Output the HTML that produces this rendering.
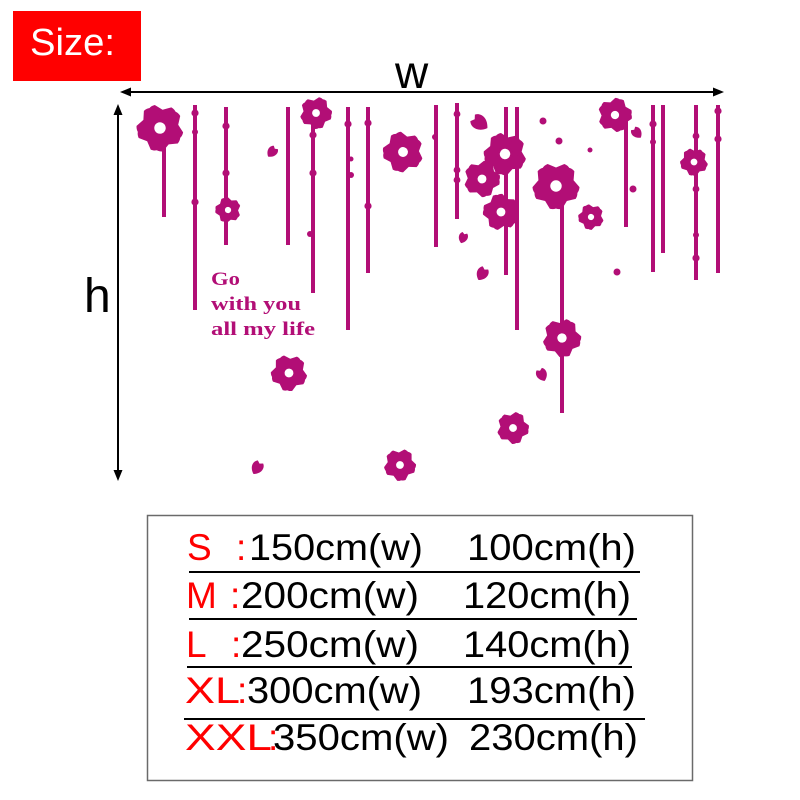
<!DOCTYPE html>
<html><head><meta charset="utf-8"><style>
html,body{margin:0;padding:0;background:#fff;}
svg{display:block;}
</style></head><body>
<svg width="800" height="800" viewBox="0 0 800 800" xmlns="http://www.w3.org/2000/svg">
<defs>
<g id="pt"><path d="M0,0 C-0.7,-0.2 -0.85,-0.82 -0.38,-1 L0,-0.84 L0.38,-1 C0.85,-0.82 0.7,-0.2 0,0Z"/></g>
<g id="fl">
<use href="#pt"/>
<use href="#pt" transform="rotate(72)"/>
<use href="#pt" transform="rotate(144)"/>
<use href="#pt" transform="rotate(216)"/>
<use href="#pt" transform="rotate(288)"/>
<circle r="0.4"/>
<circle r="0.26" fill="#fff"/>
</g>
<path id="fp" d="M0,0.5 C-0.5,0.2 -0.5,-0.3 -0.22,-0.5 L0,-0.36 L0.22,-0.5 C0.5,-0.3 0.5,0.2 0,0.5Z"/>
</defs>

<!-- Size label -->
<rect x="13" y="11" width="128" height="70" fill="#ff0000"/>
<text x="30" y="55" font-family="Liberation Sans, Arial, sans-serif" font-size="38" fill="#fff" textLength="85" lengthAdjust="spacingAndGlyphs">Size:</text>

<!-- dimension arrows -->
<text x="395" y="88" font-family="Liberation Sans, Arial, sans-serif" font-size="46" fill="#000">w</text>
<text x="84" y="312" font-family="Liberation Sans, Arial, sans-serif" font-size="48" fill="#000">h</text>
<g stroke="#000" stroke-width="2" fill="none">
<line x1="128" y1="92" x2="716" y2="92"/>
<line x1="118" y1="112" x2="118" y2="472"/>
</g>
<g fill="#000">
<polygon points="120,92 131,87.5 131,96.5"/>
<polygon points="724,92 713,87.5 713,96.5"/>
<polygon points="118,104 113.5,115 122.5,115"/>
<polygon points="118,481 113.5,470 122.5,470"/>
</g>

<!-- decoration -->
<g fill="#b20e76">
<!-- stems -->
<rect x="162" y="125" width="4" height="92"/>
<rect x="193" y="105" width="4" height="205"/>
<rect x="224" y="107" width="4" height="138"/>
<rect x="286" y="107" width="4" height="138"/>
<rect x="311" y="115" width="4" height="178"/>
<rect x="346" y="107" width="4" height="223"/>
<rect x="366" y="107" width="4" height="166"/>
<rect x="434" y="105" width="4" height="142"/>
<rect x="455" y="103" width="4" height="116"/>
<rect x="504" y="107" width="4" height="168"/>
<rect x="515" y="107" width="4" height="223"/>
<rect x="560" y="186" width="4" height="227"/>
<rect x="624" y="120" width="4" height="107"/>
<rect x="651" y="105" width="4" height="167"/>
<rect x="661" y="105" width="4" height="148"/>
<rect x="694" y="105" width="4" height="175"/>
<rect x="716" y="105" width="4" height="168"/>
<!-- stem dots -->
<circle cx="195" cy="113" r="3.6"/><circle cx="195" cy="132" r="3"/><circle cx="195" cy="202" r="3.6"/>
<circle cx="226" cy="126" r="3.6"/><circle cx="226" cy="173" r="3.6"/>
<circle cx="313" cy="135" r="3.6"/><circle cx="313" cy="173" r="3.6"/><circle cx="310" cy="234" r="3"/>
<circle cx="348" cy="124" r="3.6"/><circle cx="351" cy="159" r="2.5"/><circle cx="351" cy="175" r="3"/>
<circle cx="368" cy="123" r="3.6"/><circle cx="368" cy="206" r="3.6"/>
<circle cx="435" cy="137" r="3"/>
<circle cx="457" cy="114" r="3.4"/><circle cx="457" cy="170" r="3.4"/><circle cx="457" cy="180" r="3.4"/>
<circle cx="653" cy="124" r="3.6"/><circle cx="653" cy="142" r="3"/>
<circle cx="696" cy="136" r="3.4"/><circle cx="696" cy="189" r="3.4"/><circle cx="696" cy="235" r="3"/><circle cx="696" cy="258" r="3.6"/>
<circle cx="718" cy="111" r="3.6"/><circle cx="718" cy="139" r="3.6"/>
<!-- free dots -->
<circle cx="543" cy="121" r="3.5"/><circle cx="559" cy="141" r="3.5"/><circle cx="590" cy="150" r="2.5"/>
<circle cx="617" cy="272" r="3.5"/><circle cx="633" cy="189" r="3.5"/>
<!-- flowers -->
<use href="#fl" transform="translate(160,128) scale(22) rotate(8)"/>
<use href="#fl" transform="translate(228,210) scale(12) rotate(20)"/>
<use href="#fl" transform="translate(316,113) scale(15) rotate(-10)"/>
<use href="#fl" transform="translate(403,152) scale(19) rotate(15)"/>
<use href="#fl" transform="translate(289,373) scale(17) rotate(5)"/>
<use href="#fl" transform="translate(400,465) scale(15) rotate(-5)"/>
<use href="#fl" transform="translate(505,154) scale(20) rotate(10)"/>
<use href="#fl" transform="translate(482,179) scale(17) rotate(-15)"/>
<use href="#fl" transform="translate(501,212) scale(17) rotate(25)"/>
<use href="#fl" transform="translate(556,186) scale(22) rotate(0)"/>
<use href="#fl" transform="translate(562,338) scale(18) rotate(-8)"/>
<use href="#fl" transform="translate(591,217) scale(12) rotate(12)"/>
<use href="#fl" transform="translate(615,115) scale(16) rotate(-20)"/>
<use href="#fl" transform="translate(694,162) scale(13) rotate(5)"/>
<use href="#fl" transform="translate(513,428) scale(15) rotate(-12)"/>
<!-- falling petals -->
<use href="#fp" transform="translate(272,152) rotate(40) scale(12)"/>
<use href="#fp" transform="translate(480,123) rotate(-55) scale(18)"/>
<use href="#fp" transform="translate(463,238) rotate(20) scale(11)"/>
<use href="#fp" transform="translate(482,274) rotate(30) scale(14)"/>
<use href="#fp" transform="translate(542,375) rotate(-25) scale(13)"/>
<use href="#fp" transform="translate(637,133) rotate(-40) scale(12)"/>
<use href="#fp" transform="translate(257,468) rotate(30) scale(14)"/>
<!-- text -->
<g font-family="Liberation Serif, serif" font-weight="bold" font-size="19">
<text x="211" y="285" textLength="29" lengthAdjust="spacingAndGlyphs">Go</text>
<text x="211" y="310" textLength="90" lengthAdjust="spacingAndGlyphs">with you</text>
<text x="211" y="335" textLength="104" lengthAdjust="spacingAndGlyphs">all my life</text>
</g>
</g>

<!-- size table -->
<rect x="147.5" y="515.5" width="545" height="265" fill="#fff" stroke="#6a6a6a" stroke-width="1.5"/>
<g stroke="#000" stroke-width="2">
<line x1="189" y1="572" x2="640" y2="572"/>
<line x1="189" y1="619" x2="637" y2="619"/>
<line x1="187" y1="667" x2="632" y2="667"/>
<line x1="184" y1="719" x2="645" y2="719"/>
</g>
<g font-family="Liberation Sans, Arial, sans-serif" font-size="37">
<g fill="#ff0000">
<text x="187" y="560">S</text><text x="236" y="560">:</text>
<text x="186" y="608">M</text><text x="230" y="608">:</text>
<text x="186" y="657">L</text><text x="231" y="657">:</text>
<text x="185" y="703" textLength="55" lengthAdjust="spacingAndGlyphs">XL</text><text x="237" y="703">:</text>
<text x="185" y="750" textLength="87" lengthAdjust="spacingAndGlyphs">XXL</text><text x="268" y="750">:</text>
</g>
<g fill="#000">
<text x="249" y="560" textLength="174" lengthAdjust="spacingAndGlyphs">150cm(w)</text>
<text x="467" y="560" textLength="169" lengthAdjust="spacingAndGlyphs">100cm(h)</text>
<text x="241" y="608" textLength="178" lengthAdjust="spacingAndGlyphs">200cm(w)</text>
<text x="463" y="608" textLength="168" lengthAdjust="spacingAndGlyphs">120cm(h)</text>
<text x="241" y="657" textLength="178" lengthAdjust="spacingAndGlyphs">250cm(w)</text>
<text x="463" y="657" textLength="168" lengthAdjust="spacingAndGlyphs">140cm(h)</text>
<text x="247" y="703" textLength="175" lengthAdjust="spacingAndGlyphs">300cm(w)</text>
<text x="467" y="703" textLength="169" lengthAdjust="spacingAndGlyphs">193cm(h)</text>
<text x="273" y="750" textLength="176" lengthAdjust="spacingAndGlyphs">350cm(w)</text>
<text x="469" y="750" textLength="169" lengthAdjust="spacingAndGlyphs">230cm(h)</text>
</g>
</g>
</svg>
</body></html>
